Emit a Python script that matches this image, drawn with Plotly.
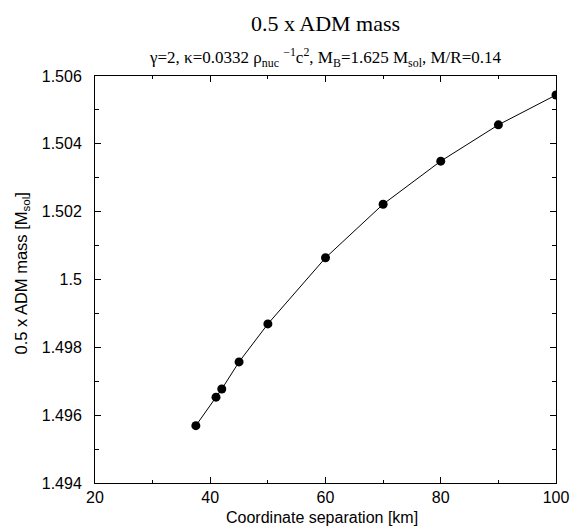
import plotly.graph_objects as go

separation_km = [37.5, 41, 42, 45, 50, 60, 70, 80, 90, 100]
half_adm_mass = [1.49569, 1.49653, 1.49677, 1.49757, 1.49869, 1.50064, 1.50222, 1.50349, 1.50456, 1.50544]

x_ticks = [20, 40, 60, 80, 100]
y_ticks = [1.494, 1.496, 1.498, 1.5, 1.502, 1.504, 1.506]
y_ticktext = ["1.494", "1.496", "1.498", "1.5", "1.502", "1.504", "1.506"]

title_text = "0.5 x ADM mass"
subtitle_text = ("γ=2, κ=0.0332 ρ<sub>nuc</sub> <sup>−1</sup>c<sup>2</sup>, "
                 "M<sub>B</sub>=1.625 M<sub>sol</sub>, M/R=0.14")
x_title = "Coordinate separation [km]"
y_title = "0.5 x ADM mass [M<sub>sol</sub>]"

fig = go.Figure()
fig.add_trace(go.Scatter(
    x=separation_km, y=half_adm_mass, mode="lines+markers",
    line=dict(color="black", width=1),
    marker=dict(color="black", size=9),
    showlegend=False,
))

sans = "Liberation Sans, Arial, sans-serif"
serif = "Liberation Serif, Times New Roman, serif"

axis_common = dict(
    showline=True, linecolor="black", linewidth=1, mirror="allticks",
    ticks="inside", ticklen=6, tickcolor="black", tickwidth=1,
    showgrid=False, zeroline=False,
    tickfont=dict(family=sans, size=16, color="black"),
)

fig.update_xaxes(
    range=[20, 100], tickmode="array", tickvals=x_ticks,
    minor=dict(ticks="inside", ticklen=3, tickcolor="black", dtick=10, tick0=20),
    **axis_common,
)
fig.update_yaxes(
    range=[1.494, 1.506], tickmode="array", tickvals=y_ticks, ticktext=y_ticktext,
    ticklabelstandoff=9,
    minor=dict(ticks="inside", ticklen=4, tickcolor="black", dtick=0.001, tick0=1.494),
    **axis_common,
)

fig.update_layout(
    width=581, height=529,
    margin=dict(l=95, r=17, t=76, b=46),
    paper_bgcolor="white", plot_bgcolor="white",
    annotations=[
        dict(text=title_text, x=0.5, y=1, xref="paper", yref="paper",
             yshift=53, showarrow=False, yanchor="middle",
             font=dict(family=serif, size=22, color="black")),
        dict(text=subtitle_text, x=0.5, y=1, xref="paper", yref="paper",
             yshift=19, showarrow=False, yanchor="middle",
             font=dict(family=serif, size=17, color="black")),
        dict(text=x_title, x=0.5, y=0, xref="paper", yref="paper",
             yshift=-34, xshift=-4, showarrow=False, yanchor="middle",
             font=dict(family=sans, size=16, color="black")),
        dict(text=y_title, x=0, y=0.5, xref="paper", yref="paper",
             xshift=-74, yshift=6, showarrow=False, xanchor="center", yanchor="middle",
             textangle=-90,
             font=dict(family=sans, size=16.5, color="black")),
    ],
)

fig.write_html("out.html", config={"displayModeBar": False},
               post_script="document.body.style.margin='0px';")
